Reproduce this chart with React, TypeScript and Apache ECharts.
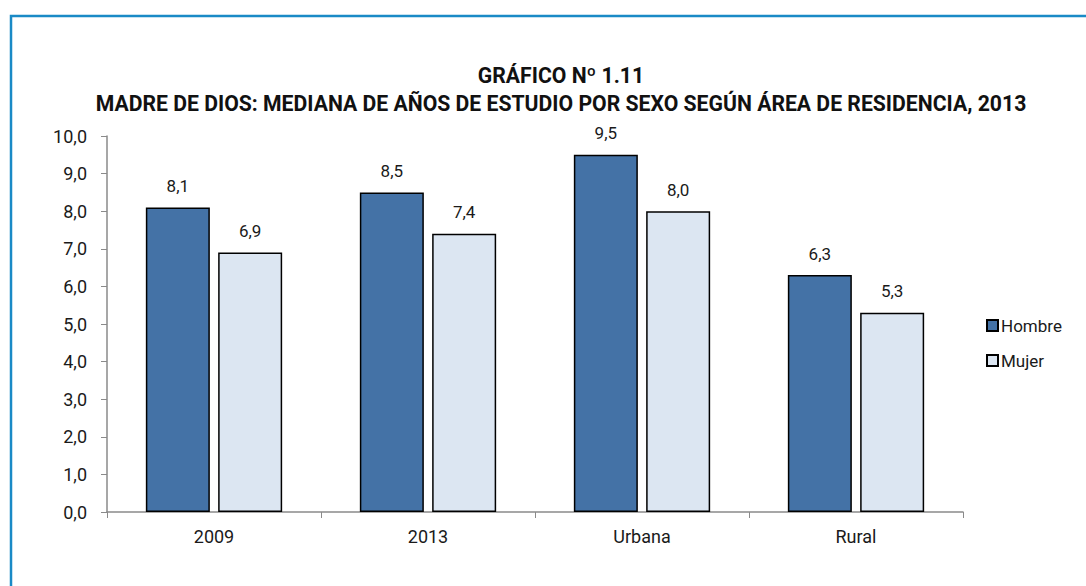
import React, { useEffect, useRef } from "react";
import * as echarts from "echarts";

const categories = ["2009", "2013", "Urbana", "Rural"];
const hombre = [8.1, 8.5, 9.5, 6.3];
const mujer = [6.9, 7.4, 8.0, 5.3];
const seriesNames = ["Hombre", "Mujer"];
const titleLines = [
  "GRÁFICO Nº 1.11",
  "MADRE DE DIOS: MEDIANA DE AÑOS DE ESTUDIO POR SEXO SEGÚN ÁREA DE RESIDENCIA, 2013",
];

const FONT = "'Liberation Sans Narrow', 'Arial Narrow', 'Roboto', sans-serif";
const fmt = (v: number) => v.toFixed(1).replace(".", ",");

export default function App() {
  const ref = useRef<HTMLDivElement>(null);
  useEffect(() => {
    document.body.style.margin = "0";
    const chart = echarts.init(ref.current!, null, { renderer: "svg" });
    const labelCfg = {
      show: true,
      position: "top" as const,
      distance: 13,
      color: "#1a1a1a",
      fontSize: 17,
      fontFamily: FONT,
      formatter: (p: any) => fmt(p.value),
    };
    chart.setOption({
      animation: false,
      backgroundColor: "#ffffff",
      graphic: [
        {
          type: "rect",
          shape: { x: 11, y: 16, width: 1200, height: 700 },
          style: { fill: "none", stroke: "#1a8ac6", lineWidth: 2.5 },
          silent: true,
        },
      ],
      title: {
        text: titleLines.join("\n"),
        left: 556,
        textAlign: "center",
        top: 56,
        textStyle: {
          fontFamily: FONT,
          fontSize: 21.2,
          fontWeight: "bold",
          color: "#111111",
          lineHeight: 28,
        },
      },
      legend: {
        orient: "vertical",
        left: 981,
        top: 312,
        itemWidth: 11,
        itemHeight: 11,
        itemGap: 18,
        icon: "rect",
        textStyle: { fontFamily: FONT, fontSize: 17, color: "#1a1a1a", padding: [0, 0, 0, -2] },
        data: seriesNames,
      },
      grid: { left: 107, top: 136, width: 856, height: 376, containLabel: false },
      xAxis: {
        type: "category",
        data: categories,
        axisLine: { lineStyle: { color: "#8a8a8a", width: 1.5 } },
        axisTick: { show: true, length: 6, alignWithLabel: false, lineStyle: { color: "#8a8a8a" } },
        axisLabel: { fontFamily: FONT, fontSize: 18, color: "#1a1a1a", margin: 15 },
      },
      yAxis: {
        type: "value",
        min: 0,
        max: 10,
        interval: 1,
        splitLine: { show: false },
        axisLine: { show: true, lineStyle: { color: "#8a8a8a", width: 1.5 } },
        axisTick: { show: true, length: 6, lineStyle: { color: "#8a8a8a" } },
        axisLabel: {
          fontFamily: FONT,
          fontSize: 18,
          color: "#1a1a1a",
          margin: 20,
          formatter: (v: number) => fmt(v),
        },
      },
      series: [
        {
          name: seriesNames[0],
          type: "bar",
          data: hombre,
          barWidth: 64,
          barGap: "13%",
          itemStyle: { color: "#4472a6", borderColor: "#000000", borderWidth: 1.5 },
          label: labelCfg,
        },
        {
          name: seriesNames[1],
          type: "bar",
          data: mujer,
          barWidth: 64,
          itemStyle: { color: "#dce6f2", borderColor: "#000000", borderWidth: 1.5 },
          label: labelCfg,
        },
      ],
    });
    return () => chart.dispose();
  }, []);
  return <div ref={ref} style={{ width: 1086, height: 586 }} />;
}
